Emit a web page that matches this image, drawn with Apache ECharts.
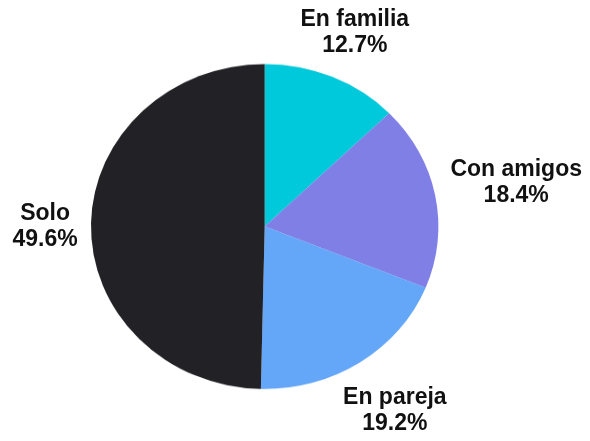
<!DOCTYPE html>
<html><head><meta charset="utf-8">
<script src="https://cdn.jsdelivr.net/npm/echarts@6/dist/echarts.min.js"></script>
<style>
html,body{margin:0;padding:0;background:#fff;}
#wrap{position:relative;width:590px;height:441px;overflow:hidden;background:#fff;}
#pie,#lab{position:absolute;left:0;top:0;}
</style></head>
<body><div id="wrap"><div id="pie"></div><div id="lab"></div></div>
<script>
const categories = ['En familia', 'Con amigos', 'En pareja', 'Solo'];
const values = [12.7, 18.4, 19.2, 49.6];
const colors = ['#00C9DB', '#7F7FE6', '#64A6F8', '#222126'];

const W = 590, H = 441;
const cx = 264.7, cy = 226.5, rx = 173.7, ry = 162.5;
const sy = ry / rx;
const gapX = 13, gapY = 5, shiftY = 2;

const data = categories.map((c, i) => ({ name: c, value: values[i], itemStyle: { color: colors[i] } }));
const total = values.reduce((a, b) => a + b, 0);
const midAngles = [];
let cum = 0;
values.forEach(v => { midAngles.push((cum + v / 2) / total * 2 * Math.PI); cum += v; });

const noBorder = { borderWidth: 0, borderColor: 'rgba(0,0,0,0)', borderJoin: 'round', borderRadius: 0 };

// Layer 1: the pie, drawn as a circle and squeezed vertically into the reference's ellipse
const pieDiv = document.getElementById('pie');
const pieH = H / sy;
pieDiv.style.width = W + 'px';
pieDiv.style.height = pieH + 'px';
pieDiv.style.transform = 'scaleY(' + sy + ')';
pieDiv.style.transformOrigin = '0 0';
const chart1 = echarts.init(pieDiv, null, { renderer: 'canvas', width: W, height: pieH });
chart1.setOption({
  backgroundColor: '#fff',
  animation: false,
  series: [{
    type: 'pie',
    center: [cx, cy / sy],
    radius: rx,
    startAngle: 90,
    clockwise: true,
    padAngle: 0,
    avoidLabelOverlap: false,
    label: { show: false },
    labelLine: { show: false },
    emphasis: { disabled: true },
    itemStyle: noBorder,
    data: data
  }]
});

// Layer 2: labels in unscaled coordinates
const labDiv = document.getElementById('lab');
labDiv.style.width = W + 'px';
labDiv.style.height = H + 'px';
const chart2 = echarts.init(labDiv, null, { renderer: 'canvas', width: W, height: H });
chart2.setOption({
  backgroundColor: 'transparent',
  animation: false,
  series: [{
    type: 'pie',
    silent: true,
    center: [cx, cy],
    radius: ry,
    startAngle: 90,
    clockwise: true,
    avoidLabelOverlap: false,
    emphasis: { disabled: true },
    itemStyle: Object.assign({ color: 'rgba(0,0,0,0)' }, noBorder),
    labelLine: { show: false },
    label: {
      show: true,
      position: 'outside',
      formatter: p => p.name + '\n' + p.value.toFixed(1) + '%',
      fontFamily: 'Liberation Sans, Arial, sans-serif',
      fontWeight: 'bold',
      fontSize: 23,
      lineHeight: 26,
      color: '#111111',
      align: 'center'
    },
    labelLayout: function (params) {
      const t = midAngles[params.dataIndex];
      const s = Math.sin(t), c = Math.cos(t);
      const w = params.labelRect.width, h = params.labelRect.height;
      const px = cx + rx * s, py = cy - ry * c;
      const ext = Math.abs(s) * w / 2 + Math.abs(c) * h / 2;
      return {
        x: px + s * (gapX + ext),
        y: py - c * (gapY + ext) + shiftY,
        align: 'center',
        verticalAlign: 'middle'
      };
    },
    data: data.map(d => ({ name: d.name, value: d.value }))
  }]
});
</script>
</body></html>
